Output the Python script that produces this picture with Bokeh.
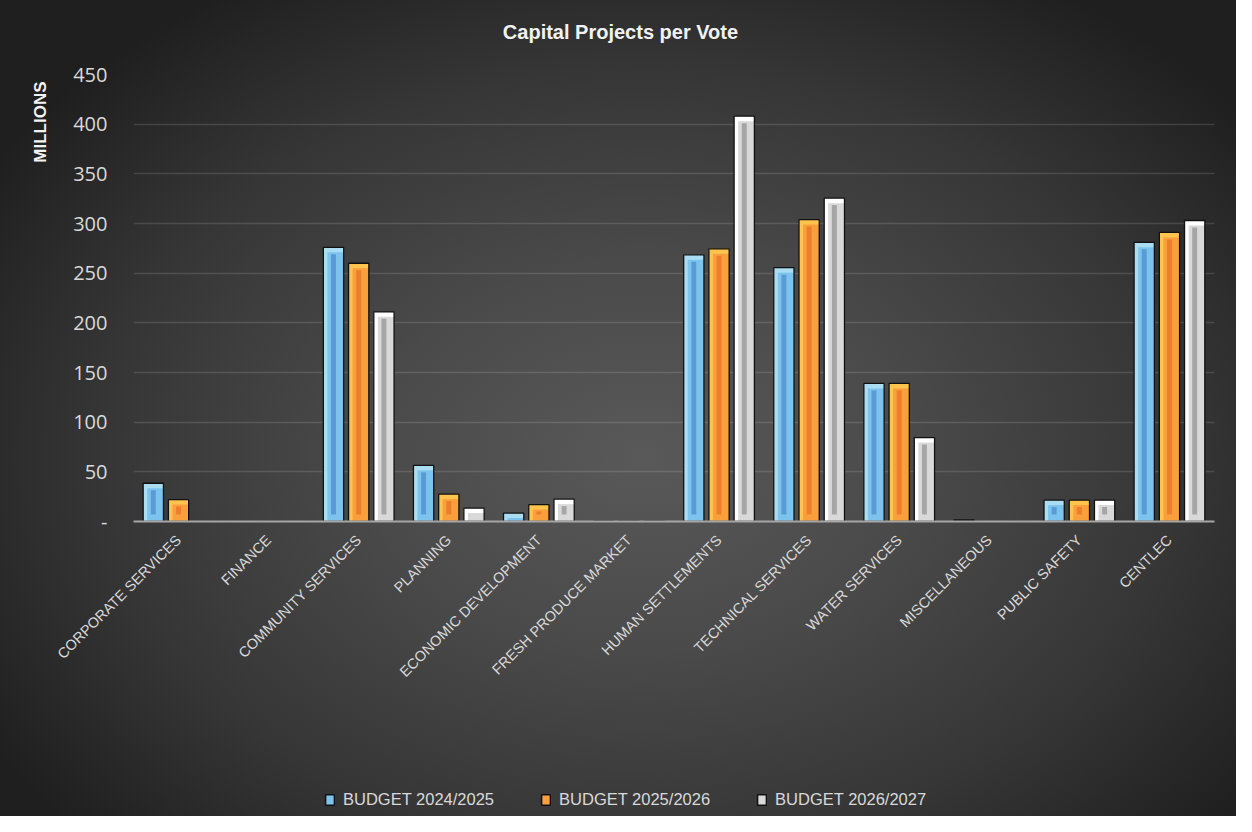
import math
from bokeh.plotting import figure
from bokeh.layouts import column
from bokeh.models import ColumnDataSource, FactorRange, Range1d, Legend, LegendItem, Title, Label
from bokeh.transform import dodge
from bokeh.embed import file_html
from bokeh.resources import INLINE

categories = ["CORPORATE SERVICES", "FINANCE", "COMMUNITY SERVICES", "PLANNING",
              "ECONOMIC DEVELOPMENT", "FRESH PRODUCE MARKET", "HUMAN SETTLEMENTS",
              "TECHNICAL SERVICES", "WATER SERVICES", "MISCELLANEOUS",
              "PUBLIC SAFETY", "CENTLEC"]
budget_2024_2025 = [38.5, 0, 276, 56.5, 8.5, 0.4, 268.5, 255.5, 139, 1.5, 21.5, 281]
budget_2025_2026 = [22, 0, 260, 27.5, 17, 0.4, 274.5, 304, 139, 0, 21.5, 291]
budget_2026_2027 = [0, 0, 211, 13.5, 22.5, 0.4, 408, 325.5, 84.5, 0, 21.5, 303]
series_names = ["BUDGET 2024/2025", "BUDGET 2025/2026", "BUDGET 2026/2027"]
y_ticks = [0, 50, 100, 150, 200, 250, 300, 350, 400, 450]
chart_title = "Capital Projects per Vote"

# style (light, mid, dark) per series
palettes = [("#aadcf2", "#7cc4ee", "#5b9bd5"),
            ("#ffc44e", "#f9a03c", "#ed7e2c"),
            ("#ffffff", "#d9d9d9", "#a6a6a6")]
offsets = [-0.28, 0.0, 0.28]
BAR_W = 0.225
EDGE_W = 0.045
STRIPE_W = 0.055
INSET = 7.0
TOPBAND = 5.0
LABEL_FONT = "Liberation Sans"


def strip_figure(h):
    f = figure(width=1236, height=h, output_backend="svg", toolbar_location=None,
               x_axis_location=None, y_axis_location=None, min_border=0,
               x_range=Range1d(0, 1), y_range=Range1d(0, 1))
    f.title = None
    f.background_fill_alpha = 0
    f.border_fill_alpha = 0
    f.outline_line_color = None
    f.grid.visible = False
    return f


title_fig = strip_figure(60)
title_fig.add_layout(Label(x=0.4505, y=0.47, text=chart_title, text_align="center",
                           text_baseline="middle", text_color="#f2f2f2",
                           text_font="Liberation Sans", text_font_size="20px",
                           text_font_style="bold"))

p = figure(x_range=FactorRange(factors=categories), y_range=Range1d(0, 450),
           width=1236, height=712, output_backend="svg", toolbar_location=None,
           min_border_left=133, min_border_right=22, min_border_top=14,
           min_border_bottom=251)
p.title = None
p.x_range.range_padding = 0
p.background_fill_alpha = 0
p.border_fill_alpha = 0
p.outline_line_color = None

leg_fig = strip_figure(44)

items = []
for vals, name, (light, mid, dark), off in zip(
        [budget_2024_2025, budget_2025_2026, budget_2026_2027], series_names, palettes, offsets):
    src = ColumnDataSource(dict(
        cat=categories,
        top=vals,
        line_a=[1.0 if v > 0 else 0.0 for v in vals],
        band_bottom=[max(v - TOPBAND, 0) for v in vals],
        stripe_top=[v - INSET if v > 2 * INSET else 0 for v in vals],
        stripe_bottom=[INSET if v > 2 * INSET else 0 for v in vals],
    ))
    p.vbar(x=dodge("cat", off, range=p.x_range), top="top", bottom=0, width=BAR_W,
           source=src, fill_color=mid, line_color=None)
    p.vbar(x=dodge("cat", off - BAR_W / 2 + EDGE_W / 2, range=p.x_range), top="top", bottom=0,
           width=EDGE_W, source=src, fill_color=light, line_color=None)
    p.vbar(x=dodge("cat", off, range=p.x_range), top="top", bottom="band_bottom", width=BAR_W,
           source=src, fill_color=light, line_color=None)
    p.vbar(x=dodge("cat", off, range=p.x_range), top="stripe_top", bottom="stripe_bottom",
           width=STRIPE_W, source=src, fill_color=dark, line_color=None)
    p.vbar(x=dodge("cat", off, range=p.x_range), top="top", bottom=0, width=BAR_W,
           source=src, fill_alpha=0, line_color="#111111", line_width=1.3,
           line_alpha="line_a")
    # legend swatch: a box glyph kept outside the visible range of the legend strip
    sw = leg_fig.quad(left=[-3], right=[-2], bottom=[-3], top=[-2], fill_color=mid,
                      line_color="#111111", line_width=1.5)
    items.append(LegendItem(label=name, renderers=[sw]))

# axes and grid
p.xgrid.grid_line_color = None
p.ygrid.grid_line_color = "#ffffff"
p.ygrid.grid_line_alpha = 0.13
p.ygrid.grid_line_width = 1.5
p.ygrid.ticker = y_ticks

p.yaxis.ticker = y_ticks
p.yaxis.major_label_overrides = {0: "-"}
p.yaxis.axis_line_color = None
p.yaxis.major_tick_line_color = None
p.yaxis.minor_tick_line_color = None
p.yaxis.major_label_standoff = 20
p.yaxis.major_label_text_color = "#d9d9d9"
p.yaxis.major_label_text_font = "Open Sans"
p.yaxis.major_label_text_font_size = "20px"

p.xaxis.axis_line_color = "#a6a6a6"
p.xaxis.axis_line_width = 2
p.xaxis.major_tick_line_color = None
p.xaxis.minor_tick_line_color = None
p.xaxis.major_label_orientation = math.pi / 4
p.xaxis.major_label_standoff = 10
p.xaxis.major_label_text_color = "#d9d9d9"
p.xaxis.major_label_text_font = LABEL_FONT
p.xaxis.major_label_text_font_size = "14.5px"

ylab = Title(text="MILLIONS", align="right", text_color="#f2f2f2",
             text_font=LABEL_FONT, text_font_size="17px",
             text_font_style="bold", standoff=42, offset=7)
p.add_layout(ylab, "left")

legend = Legend(items=items, orientation="horizontal", location=(191, 7),
                background_fill_alpha=0, border_line_color=None,
                label_text_color="#d9d9d9", label_text_font=LABEL_FONT,
                label_text_font_size="16.5px", glyph_width=11, glyph_height=13,
                spacing=46, label_standoff=8, padding=6, margin=0)
leg_fig.add_layout(legend, "center")

layout = column(title_fig, p, leg_fig, spacing=0,
                styles={"background": "radial-gradient(ellipse 62% 68% at 52% 56%, #595959 0%, #4a4a4a 35%, #363636 70%, #1f1f1f 100%)"})

open("out.html", "w").write(file_html(layout, INLINE))
